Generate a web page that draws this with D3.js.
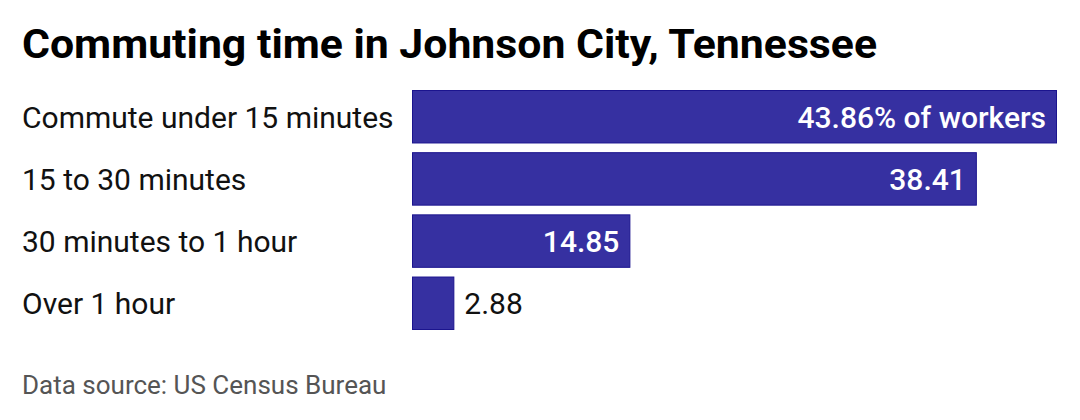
<!DOCTYPE html>
<html>
<head>
<meta charset="utf-8">
<script src="https://cdn.jsdelivr.net/npm/d3@7"></script>
<style>
  body { margin: 0; background: #fff; }
  svg { display: block; font-family: Roboto, sans-serif; }
</style>
</head>
<body>
<svg width="1080" height="420"></svg>
<script>
const categories = ['Commute under 15 minutes', '15 to 30 minutes', '30 minutes to 1 hour', 'Over 1 hour'];
const values = [43.86, 38.41, 14.85, 2.88];
const valueLabels = ['43.86% of workers', '38.41', '14.85', '2.88'];

const svg = d3.select('svg');
const margin = { left: 412, right: 23, top: 90, bottom: 90 };

const x = d3.scaleLinear().domain([0, d3.max(values)]).range([margin.left, 1080 - margin.right]);
const y = d3.scaleBand().domain(categories).range([90, 330]).paddingInner(0.14).paddingOuter(0);

const rows = categories.map((c, i) => ({ cat: c, value: values[i], label: valueLabels[i] }));

// title
svg.append('text')
    .attr('x', 22).attr('y', 58)
    .attr('font-size', 40).attr('font-weight', 700)
    .attr('fill', '#000')
    .attr('textLength', 855)
    .attr('lengthAdjust', 'spacingAndGlyphs')
    .text('Commuting time in Johnson City, Tennessee');

// category labels
svg.append('g').selectAll('text')
    .data(rows).join('text')
    .attr('x', 22)
    .attr('y', d => y(d.cat) + y.bandwidth() / 2)
    .attr('dy', '0.36em')
    .attr('font-size', 30)
    .attr('fill', '#111')
    .text(d => d.cat);

// bars
svg.append('g').selectAll('rect')
    .data(rows).join('rect')
    .attr('x', x(0) + 0.5)
    .attr('y', d => y(d.cat) + 0.5)
    .attr('width', d => x(d.value) - x(0) - 1)
    .attr('height', y.bandwidth() - 1)
    .attr('fill', '#3630a1')
    .attr('stroke', '#1b148e')
    .attr('stroke-width', 1);

// value labels: inside when they fit, outside otherwise
svg.append('g').selectAll('text')
    .data(rows).join('text')
    .attr('y', d => y(d.cat) + y.bandwidth() / 2)
    .attr('dy', '0.36em')
    .attr('font-size', 30)
    .each(function (d) {
        const inside = x(d.value) - x(0) > 100;
        d3.select(this)
            .attr('x', inside ? x(d.value) - 11 : x(d.value) + 10)
            .attr('text-anchor', inside ? 'end' : 'start')
            .attr('fill', inside ? '#fff' : '#111')
            .attr('font-weight', inside ? 500 : 400);
    })
    .text(d => d.label);

// source
svg.append('text')
    .attr('x', 22).attr('y', 394)
    .attr('font-size', 26)
    .attr('fill', '#555')
    .text('Data source: US Census Bureau');
</script>
</body>
</html>
